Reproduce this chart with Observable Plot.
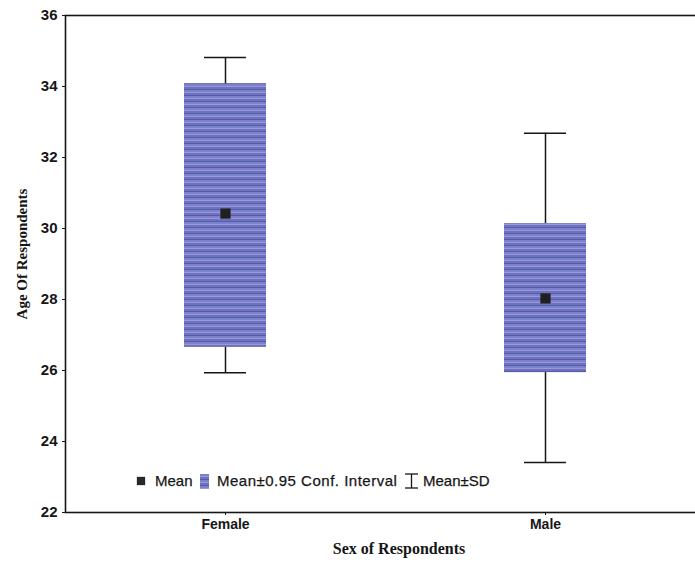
<!DOCTYPE html>
<html>
<head>
<meta charset="utf-8">
<script src="https://cdn.jsdelivr.net/npm/d3@7"></script>
<script src="https://cdn.jsdelivr.net/npm/@observablehq/plot@0.6"></script>
<style>
  html, body { margin: 0; padding: 0; background: #fff; }
  #chart svg { display: block; }
</style>
</head>
<body>
<div id="chart"></div>
<script>
// Age of respondents by sex: mean, 95% confidence interval and mean ± SD
const categories = ["Female", "Male"];
const means = [30.42, 28.03];
const ciLow = [26.65, 25.94];
const ciHigh = [34.08, 30.14];
const sdLow = [25.94, 23.41];
const sdHigh = [34.82, 32.68];
const yTicks = [22, 24, 26, 28, 30, 32, 34, 36];

const rows = categories.map((sex, i) => ({
  sex,
  mean: means[i],
  ciLow: ciLow[i],
  ciHigh: ciHigh[i],
  sdLow: sdLow[i],
  sdHigh: sdHigh[i]
}));

const ink = "#161616";

const svg = Plot.plot({
  width: 695,
  height: 571,
  marginTop: 15,
  marginBottom: 59,
  marginLeft: 65,
  marginRight: -10,
  style: { fontFamily: "Arial, 'Liberation Sans', sans-serif", background: "#fff", color: ink },
  x: { domain: categories, padding: 0, label: null },
  y: { domain: [22, 36], label: null },
  marks: [
    // Mean ± SD whiskers
    Plot.ruleX(rows, { x: "sex", y1: "sdLow", y2: "sdHigh", stroke: ink, strokeWidth: 1.5 }),
    Plot.tickY(rows, { x: "sex", y: "sdLow", insetLeft: 139, insetRight: 139, stroke: ink, strokeWidth: 1.5 }),
    Plot.tickY(rows, { x: "sex", y: "sdHigh", insetLeft: 139, insetRight: 139, stroke: ink, strokeWidth: 1.5 }),
    // 95% confidence interval boxes
    Plot.barY(rows, { x: "sex", y1: "ciLow", y2: "ciHigh", insetLeft: 119, insetRight: 119, fill: "url(#stripes)" }),
    // Means
    Plot.dot(rows, { x: "sex", y: "mean", symbol: "square", r: 5.5, fill: "#202020", stroke: "#2a2a2a", strokeWidth: 0.5 }),
    Plot.frame({ stroke: ink, strokeWidth: 1.6 }),
    Plot.axisY({ ticks: yTicks, tickSize: 3, tickPadding: 5, fontSize: 15, fontWeight: "bold", label: null }),
    Plot.axisX({ tickSize: 3, tickPadding: 4, fontSize: 14, fontWeight: "bold", label: null })
  ]
});

const root = d3.select(svg);

// Striped fill used by the interval boxes and the legend swatch
const pat = root.insert("defs", ":first-child")
  .append("pattern")
  .attr("id", "stripes")
  .attr("patternUnits", "userSpaceOnUse")
  .attr("width", 8)
  .attr("height", 6);
[["#7a82cc", 0, 2], ["#a093d8", 2, 1], ["#6b72bf", 3, 2], ["#555da9", 5, 1]].forEach(([c, y, h]) => {
  pat.append("rect").attr("x", 0).attr("y", y).attr("width", 8).attr("height", h).attr("fill", c);
});

// Axis titles
root.append("text")
  .attr("transform", "translate(27,254) rotate(-90)")
  .attr("text-anchor", "middle")
  .attr("font-family", "'Liberation Serif', 'Times New Roman', serif")
  .attr("font-weight", "bold")
  .attr("font-size", 15)
  .attr("fill", ink)
  .text("Age Of Respondents");

root.append("text")
  .attr("x", 399)
  .attr("y", 554)
  .attr("text-anchor", "middle")
  .attr("font-family", "'Liberation Serif', 'Times New Roman', serif")
  .attr("font-weight", "bold")
  .attr("font-size", 16)
  .attr("fill", ink)
  .text("Sex of Respondents");

// Legend
const lg = root.append("g")
  .attr("font-family", "Arial, 'Liberation Sans', sans-serif")
  .attr("font-size", 15)
  .attr("text-anchor", "start")
  .attr("fill", ink)
  .attr("stroke", ink)
  .attr("stroke-width", 0.25);
const ly = 481;
lg.append("rect").attr("x", 137).attr("y", ly - 4).attr("width", 8).attr("height", 8).attr("fill", "#2a2a2a");
lg.append("text").attr("x", 155).attr("y", ly).attr("dy", "0.36em").text("Mean");
lg.append("rect").attr("x", 200).attr("y", ly - 7).attr("width", 9).attr("height", 15).attr("fill", "url(#stripes)").attr("stroke", "none");
lg.append("text").attr("x", 217).attr("y", ly).attr("dy", "0.36em").attr("letter-spacing", 0.5).text("Mean±0.95 Conf. Interval");
const ib = lg.append("g").attr("stroke", ink).attr("stroke-width", 1.3);
ib.append("line").attr("x1", 405).attr("x2", 418).attr("y1", ly - 7).attr("y2", ly - 7);
ib.append("line").attr("x1", 405).attr("x2", 418).attr("y1", ly + 7).attr("y2", ly + 7);
ib.append("line").attr("x1", 411.5).attr("x2", 411.5).attr("y1", ly - 7).attr("y2", ly + 7);
lg.append("text").attr("x", 423).attr("y", ly).attr("dy", "0.36em").text("Mean±SD");

document.getElementById("chart").appendChild(svg);
</script>
</body>
</html>
